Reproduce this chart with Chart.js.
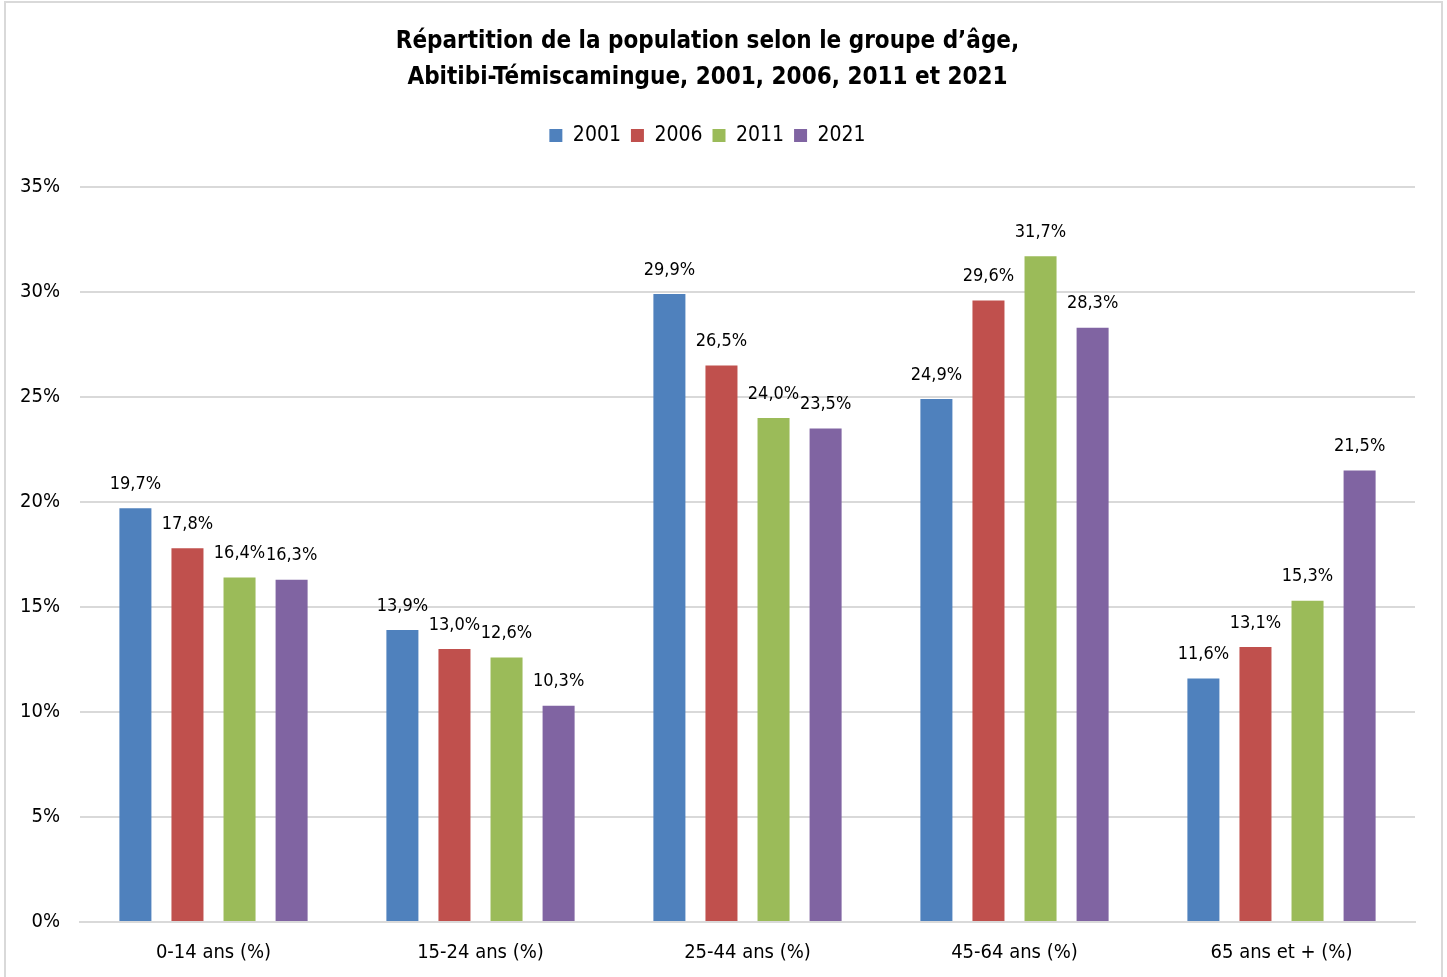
<!DOCTYPE html>
<html>
<head>
<meta charset="utf-8">
<script src="https://cdn.jsdelivr.net/npm/chart.js@4.4.0/dist/chart.umd.min.js"></script>
<style>
  body { margin: 0; background: #fff; }
  #cadre { position: absolute; left: 0; top: 0; width: 1447px; height: 977px; }
  #bordure { position: absolute; left: 4px; top: 1px; width: 1435px; height: 1000px; border: 2px solid #d9d9d9; pointer-events: none; }
</style>
</head>
<body>
<div id="cadre"><canvas id="graphique"></canvas></div>
<div id="bordure"></div>
<script>
// Données
var categories = ['0-14 ans (%)', '15-24 ans (%)', '25-44 ans (%)', '45-64 ans (%)', '65 ans et + (%)'];
var annees = ['2001', '2006', '2011', '2021'];
var serie2001 = [19.7, 13.9, 29.9, 24.9, 11.6];
var serie2006 = [17.8, 13.0, 26.5, 29.6, 13.1];
var serie2011 = [16.4, 12.6, 24.0, 31.7, 15.3];
var serie2021 = [16.3, 10.3, 23.5, 28.3, 21.5];
var couleurs = ['#4f81bd', '#c0504d', '#9bbb59', '#8064a2'];

var police = "'Liberation Sans Narrow', 'DejaVu Sans Condensed', 'Liberation Sans', sans-serif";

function formatPct(v) {
  return v.toFixed(1).replace('.', ',') + '%';
}

// étiquettes au-dessus des barres
var etiquettes = {
  id: 'etiquettes',
  afterDatasetsDraw: function (chart) {
    var ctx = chart.ctx;
    ctx.save();
    ctx.font = '18px ' + police;
    ctx.fillStyle = '#000';
    ctx.textAlign = 'center';
    ctx.textBaseline = 'middle';
    chart.data.datasets.forEach(function (ds, i) {
      var meta = chart.getDatasetMeta(i);
      meta.data.forEach(function (bar, j) {
        ctx.fillText(formatPct(ds.data[j]), bar.x, bar.y - 24);
      });
    });
    ctx.restore();
  }
};

var series = [serie2001, serie2006, serie2011, serie2021];
var datasets = [];
for (var i = 0; i < annees.length; i++) {
  datasets.push({
    label: annees[i],
    data: series[i],
    backgroundColor: couleurs[i],
    borderWidth: 0,
    categoryPercentage: 0.78,
    barPercentage: 0.615
  });
}

new Chart(document.getElementById('graphique'), {
  type: 'bar',
  data: { labels: categories, datasets: datasets },
  plugins: [etiquettes],
  options: {
    responsive: true,
    maintainAspectRatio: false,
    animation: false,
    layout: { padding: { left: 0, right: 32, top: 0, bottom: 0 } },
    plugins: {
      title: {
        display: true,
        text: ['Répartition de la population selon le groupe d’âge,', 'Abitibi-Témiscamingue, 2001, 2006, 2011 et 2021'],
        color: '#000',
        font: { family: police, size: 24, weight: 'bold', lineHeight: 1.5 },
        padding: { top: 24, bottom: 19 }
      },
      legend: {
        display: true,
        weight: 1800,
        labels: {
          color: '#000',
          boxWidth: 13,
          boxHeight: 13,
          padding: 10,
          font: { family: police, size: 21 }
        }
      },
      // espace vide entre la légende et le graphique
      subtitle: {
        display: true,
        text: '',
        font: { size: 1, lineHeight: 1 },
        padding: { top: 0, bottom: 30 }
      },
      tooltip: { enabled: false }
    },
    scales: {
      y: {
        min: 0,
        max: 35,
        ticks: {
          stepSize: 5,
          color: '#000',
          padding: 20,
          font: { family: police, size: 20 },
          callback: function (v) { return v + '%'; }
        },
        grid: { color: '#d9d9d9', lineWidth: 2, drawTicks: false },
        border: { display: false },
        afterFit: function (scale) { scale.width = 80; }
      },
      x: {
        ticks: {
          color: '#000',
          padding: 19,
          font: { family: police, size: 20 }
        },
        grid: { display: false, drawTicks: false },
        border: { color: '#d9d9d9', width: 2 },
        afterFit: function (scale) { scale.height = 55; }
      }
    }
  }
});
</script>
</body>
</html>
